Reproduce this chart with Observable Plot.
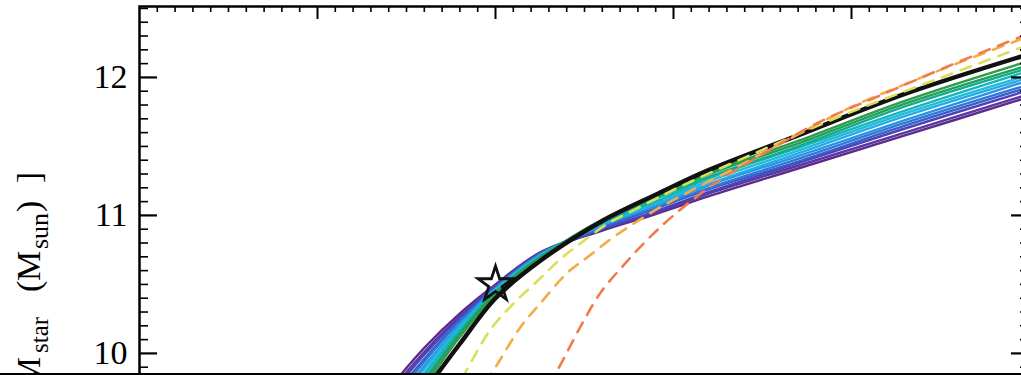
<!DOCTYPE html>
<html>
<head>
<meta charset="utf-8">
<script src="https://cdn.jsdelivr.net/npm/d3@7"></script>
<script src="https://cdn.jsdelivr.net/npm/@observablehq/plot@0.6"></script>
<style>
  body { margin: 0; background: #fff; }
  #wrap { position: relative; width: 1021px; height: 375px; overflow: hidden; background: #fff; }
  #wrap > svg { position: absolute; left: 0; top: 0; }
  #edge { position: absolute; left: 0; top: 373px; width: 1021px; height: 2px; background: #000; }
  #ylabel text { font-family: 'Liberation Serif', 'Times New Roman', serif; fill: #000; }
</style>
</head>
<body>
<div id="wrap">
  <svg id="ylabel" width="139" height="375" style="z-index:2">
    <g transform="rotate(-90)">
      <text x="-357" y="40" text-anchor="end" font-size="34">log[M</text>
      <text x="-353" y="48" font-size="25">star</text>
      <text x="-292" y="40" font-size="34">(</text>
      <text x="-281" y="40" font-size="34">M</text>
      <text x="-249" y="48" font-size="26">sun</text>
      <text x="-212" y="40" font-size="34">)</text>
      <text x="-172" y="40" text-anchor="end" font-size="34">]</text>
    </g>
  </svg>
  <div id="edge"></div>
</div>
<script>
// Halo mass grid (log Mhalo) shared by the solid relations
const haloGrid = [11.4, 11.6, 11.8, 12.0, 12.25, 12.6, 12.9, 13.2, 13.7, 14.3, 15.0];

// Thick black reference relation
const fiducial = [9.33, 9.72, 10.07, 10.40, 10.67, 10.96, 11.15, 11.33, 11.58, 11.88, 12.17];

// Family of solid relations, purple (shallowest at high mass) to green
const rel00 = [9.74, 10.04, 10.29, 10.50, 10.73, 10.89, 11.01, 11.14, 11.34, 11.58, 11.86];
const rel01 = [9.71, 10.01, 10.27, 10.49, 10.73, 10.90, 11.02, 11.16, 11.36, 11.60, 11.88];
const rel02 = [9.68, 9.99, 10.26, 10.49, 10.72, 10.90, 11.03, 11.17, 11.38, 11.63, 11.91];
const rel03 = [9.65, 9.96, 10.24, 10.48, 10.72, 10.91, 11.05, 11.19, 11.39, 11.65, 11.93];
const rel04 = [9.62, 9.94, 10.23, 10.47, 10.72, 10.92, 11.06, 11.20, 11.41, 11.67, 11.95];
const rel05 = [9.59, 9.91, 10.21, 10.47, 10.71, 10.93, 11.07, 11.22, 11.43, 11.69, 11.98];
const rel06 = [9.55, 9.89, 10.20, 10.46, 10.71, 10.93, 11.08, 11.23, 11.45, 11.72, 12.00];
const rel07 = [9.52, 9.86, 10.18, 10.46, 10.71, 10.94, 11.09, 11.25, 11.47, 11.74, 12.02];
const rel08 = [9.49, 9.84, 10.17, 10.45, 10.70, 10.95, 11.10, 11.27, 11.49, 11.76, 12.05];
const rel09 = [9.46, 9.81, 10.15, 10.44, 10.70, 10.95, 11.12, 11.28, 11.50, 11.79, 12.07];
const rel10 = [9.43, 9.79, 10.14, 10.44, 10.69, 10.96, 11.13, 11.30, 11.52, 11.81, 12.09];
const rel11 = [9.40, 9.76, 10.12, 10.43, 10.69, 10.97, 11.14, 11.31, 11.54, 11.83, 12.12];
const relations = [rel00, rel01, rel02, rel03, rel04, rel05, rel06, rel07, rel08, rel09, rel10, rel11];
const relationColors = ["#5c2c8c", "#5a36a2", "#4c44b6", "#3a5cc8", "#2e78d6", "#2a92e0",
                        "#26aae6", "#1fbadc", "#16b6b8", "#15ab8c", "#20a060", "#2f9c48"];

// Dashed relations
const limeX = [11.75, 11.82, 11.97, 12.10, 12.24, 12.37, 12.48, 12.63, 12.78, 13.04, 13.49, 13.94, 14.28, 14.61, 15.0];
const limeY = [9.70, 9.84, 10.17, 10.36, 10.53, 10.69, 10.80, 10.94, 11.04, 11.21, 11.47, 11.72, 11.89, 12.05, 12.24];
const amberX = [11.94, 11.99, 12.14, 12.25, 12.40, 12.52, 12.66, 12.80, 12.94, 13.10, 13.34, 13.66, 13.99, 14.28, 14.61, 15.0];
const amberY = [9.79, 9.88, 10.19, 10.36, 10.58, 10.70, 10.84, 10.96, 11.07, 11.18, 11.34, 11.56, 11.78, 11.94, 12.11, 12.30];
const coralX = [12.30, 12.37, 12.48, 12.59, 12.72, 12.85, 13.00, 13.23, 13.47, 13.81, 14.18, 14.56, 15.0];
const coralY = [9.77, 9.93, 10.20, 10.44, 10.64, 10.82, 11.00, 11.23, 11.42, 11.67, 11.88, 12.09, 12.32];
const dashed = [
  {xs: limeX, ys: limeY, color: "#d9df5a"},
  {xs: amberX, ys: amberY, color: "#f6aa48"},
  {xs: coralX, ys: coralY, color: "#f27b4e"}
];

// Marked object
const starX = [12.0];
const starY = [10.50];

// Axes
const xDomain = [10, 15];
const yDomain = [9.84, 12.514];
const yTickLabels = [10, 11, 12];
const xMajorTicks = [11, 12, 13, 14];

const W = 1031, H = 375, ML = 139, MR = 2, MT = 6, MB = 0;
const pxPerX = (W - ML - MR) / (xDomain[1] - xDomain[0]);
const pxPerY = (H - MT - MB) / (yDomain[1] - yDomain[0]);
const xMinorTicks = d3.range(101, 150).map(v => v / 10).filter(v => !Number.isInteger(v));
const yMinorTicks = d3.range(99, 126).map(v => v / 10).filter(v => !Number.isInteger(v));
const yMajorTicks = yTickLabels;

const pairs = (xs, ys) => xs.map((x, i) => [x, ys[i]]);

const marks = [];
relations.forEach((ys, i) => {
  marks.push(Plot.line(pairs(haloGrid, ys), {stroke: relationColors[i], strokeWidth: 2.4, curve: "catmull-rom", clip: true}));
});
marks.push(Plot.line(pairs(haloGrid, fiducial), {stroke: "#111", strokeWidth: 4.5, curve: "catmull-rom", clip: true}));
dashed.forEach(s => {
  marks.push(Plot.line(pairs(s.xs, s.ys), {stroke: s.color, strokeWidth: 2.6, strokeDasharray: "11,9", curve: "catmull-rom", clip: true}));
});
marks.push(Plot.dot(pairs(starX, starY), {symbol: "star", r: 11, stroke: "#111", strokeWidth: 2.8, fill: "none"}));

// Frame and inward ticks on top, left and right
const yTop = yDomain[1], xL = xDomain[0], xR = xDomain[1];
marks.push(
  Plot.ruleX(xMinorTicks, {y1: yTop, y2: yTop - 6 / pxPerY, stroke: "#000", strokeWidth: 1.6}),
  Plot.ruleX(xMajorTicks, {y1: yTop, y2: yTop - 13 / pxPerY, stroke: "#000", strokeWidth: 2}),
  Plot.ruleY(yMinorTicks, {x1: xL, x2: xL + 9 / pxPerX, stroke: "#000", strokeWidth: 1.6}),
  Plot.ruleY(yMajorTicks, {x1: xL, x2: xL + 18 / pxPerX, stroke: "#000", strokeWidth: 2.2}),
  Plot.ruleY(yMinorTicks, {x1: xR, x2: xR - 9 / pxPerX, stroke: "#000", strokeWidth: 1.6}),
  Plot.ruleY(yMajorTicks, {x1: xR, x2: xR - 18 / pxPerX, stroke: "#000", strokeWidth: 2.2}),
  Plot.frame({stroke: "#000", strokeWidth: 2.5}),
  Plot.text(yTickLabels, {y: d => d, text: d => String(d), frameAnchor: "left", dx: -12, textAnchor: "end", fontSize: 34, fill: "#000"})
);

const chart = Plot.plot({
  width: W, height: H,
  marginLeft: ML, marginRight: MR, marginTop: MT, marginBottom: MB,
  x: {domain: xDomain, axis: null},
  y: {domain: yDomain, axis: null},
  style: {fontFamily: "'Liberation Serif','Times New Roman',serif", background: "white", color: "black", overflow: "visible", maxWidth: "none"},
  marks
});
chart.style.maxWidth = "none";
chart.style.width = W + "px";
chart.style.height = H + "px";
const wrap = document.getElementById("wrap");
wrap.insertBefore(chart, wrap.firstChild);
</script>
</body>
</html>
